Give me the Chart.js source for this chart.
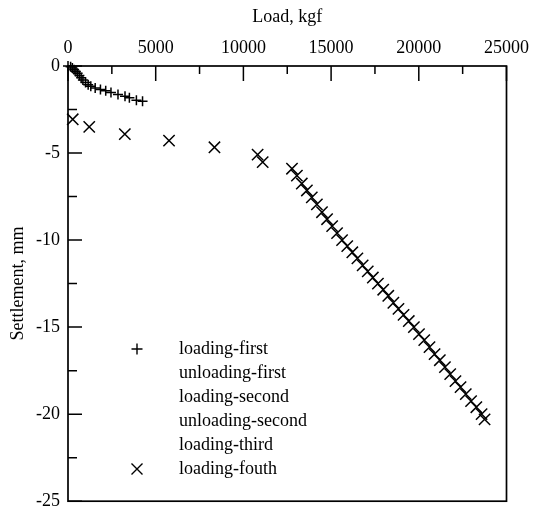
<!DOCTYPE html>
<html>
<head>
<meta charset="utf-8">
<script src="https://cdn.jsdelivr.net/npm/chart.js@4/dist/chart.umd.min.js"></script>
<style>
  html, body { margin: 0; padding: 0; background: #fff; }
  canvas { display: block; }
</style>
</head>
<body>
<canvas id="settlement-chart" width="536" height="520"></canvas>
<script>
// kgf / mm
const loadFirstX = [0, 150, 250, 350, 450, 550, 650, 750, 850, 1000, 1150, 1300, 1550, 1850, 2150, 2450, 2850, 3250, 3500, 3900, 4250];
const loadFirstY = [0, -0.05, -0.12, -0.22, -0.32, -0.42, -0.55, -0.68, -0.80, -0.95, -1.08, -1.17, -1.26, -1.35, -1.42, -1.52, -1.64, -1.74, -1.83, -1.97, -2.03];

const loadFouthX = [270, 1210, 3240, 5760, 8350, 10810, 11100,
    12770, 13050, 13330, 13620, 13900, 14190, 14480, 14770, 15060, 15340, 15625,
    15920, 16210, 16500, 16800, 17090, 17380, 17670, 17970, 18260, 18550, 18840, 19130, 19430, 19720,
    20010, 20310, 20610, 20900, 21200, 21490, 21790, 22090, 22380, 22680, 22980, 23280, 23580, 23750];
const loadFouthY = [-3.06, -3.50, -3.91, -4.29, -4.67, -5.09, -5.52,
    -5.90, -6.30, -6.75, -7.15, -7.55, -7.95, -8.40, -8.80, -9.20, -9.60, -10.00,
    -10.35, -10.70, -11.05, -11.45, -11.80, -12.15, -12.50, -12.85, -13.20, -13.60, -13.95, -14.30, -14.65, -15.00,
    -15.40, -15.75, -16.15, -16.55, -16.90, -17.30, -17.70, -18.10, -18.45, -18.85, -19.25, -19.60, -20.00, -20.30];

const seriesNames = ['loading-first', 'unloading-first', 'loading-second', 'unloading-second', 'loading-third', 'loading-fouth'];
const xTicks = [0, 5000, 10000, 15000, 20000, 25000];
const yTicks = [0, -5, -10, -15, -20, -25];

const FONT = { family: '"Liberation Serif", "Times New Roman", serif', size: 18 };

function toPoints(xs, ys) {
    return xs.map((x, i) => ({ x, y: ys[i] }));
}

// inward ticks, box and the text-only legend
const frame = {
    id: 'frame',
    afterDraw(chart) {
        const { ctx, chartArea: a, scales: { x, y } } = chart;
        ctx.save();
        ctx.strokeStyle = '#000';
        ctx.lineWidth = 1.7;
        ctx.strokeRect(a.left, a.top, a.right - a.left, a.bottom - a.top);

        ctx.lineWidth = 1.5;
        ctx.beginPath();
        for (let v = 0; v <= 25000; v += 2500) {
            const px = x.getPixelForValue(v);
            const len = v % 5000 === 0 ? 15 : 8;
            ctx.moveTo(px, a.top);
            ctx.lineTo(px, a.top + len);
        }
        for (let v = 0; v >= -25; v -= 2.5) {
            const py = y.getPixelForValue(v);
            const len = v % 5 === 0 ? 14 : 9;
            ctx.moveTo(a.left, py);
            ctx.lineTo(a.left + len, py);
        }
        ctx.stroke();

        // legend
        ctx.font = `${FONT.size}px ${FONT.family}`;
        ctx.fillStyle = '#000';
        ctx.textBaseline = 'middle';
        ctx.textAlign = 'left';
        const lx = 137, tx = 179, top = 349, step = 24;
        seriesNames.forEach((name, i) => {
            const cy = top + i * step;
            ctx.fillText(name, tx, cy);
        });
        ctx.lineWidth = 1.4;
        ctx.beginPath();
        ctx.moveTo(lx - 5.5, top); ctx.lineTo(lx + 5.5, top);
        ctx.moveTo(lx, top - 5.5); ctx.lineTo(lx, top + 5.5);
        const cy = top + 5 * step;
        ctx.moveTo(lx - 5.5, cy - 5.5); ctx.lineTo(lx + 5.5, cy + 5.5);
        ctx.moveTo(lx - 5.5, cy + 5.5); ctx.lineTo(lx + 5.5, cy - 5.5);
        ctx.stroke();
        ctx.restore();
    }
};

new Chart(document.getElementById('settlement-chart'), {
    type: 'scatter',
    data: {
        datasets: [
            {
                label: seriesNames[0],
                data: toPoints(loadFirstX, loadFirstY),
                pointStyle: 'cross',
                pointRadius: 5,
                borderColor: '#000',
                borderWidth: 1.5,
                clip: false,
            },
            { label: seriesNames[1], data: [] },
            { label: seriesNames[2], data: [] },
            { label: seriesNames[3], data: [] },
            { label: seriesNames[4], data: [] },
            {
                label: seriesNames[5],
                data: toPoints(loadFouthX, loadFouthY),
                pointStyle: 'crossRot',
                pointRadius: 8,
                borderColor: '#000',
                borderWidth: 1.5,
                clip: false,
            },
        ],
    },
    options: {
        responsive: false,
        animation: false,
        layout: { padding: { top: 0, left: 0, right: 28, bottom: 13 } },
        plugins: {
            legend: { display: false },
            tooltip: { enabled: false },
        },
        scales: {
            x: {
                type: 'linear',
                position: 'top',
                min: 0,
                max: 25000,
                afterFit: s => { s.height = 66; },
                afterBuildTicks: s => { s.ticks = xTicks.map(value => ({ value })); },
                grid: { display: false, drawTicks: false },
                border: { display: false },
                ticks: { color: '#000', font: FONT, padding: 7, maxRotation: 0, callback: v => String(v) },
                title: { display: true, text: 'Load, kgf', color: '#000', font: FONT, padding: { top: 6, bottom: 0 } },
            },
            y: {
                type: 'linear',
                min: -25,
                max: 0,
                afterFit: s => { s.width = 68; },
                afterBuildTicks: s => { s.ticks = yTicks.map(value => ({ value })); },
                grid: { display: false, drawTicks: false },
                border: { display: false },
                ticks: { color: '#000', font: FONT, padding: 8, callback: v => String(v) },
                title: { display: true, text: 'Settlement, mm', color: '#000', font: FONT, padding: { top: 7, bottom: 0 } },
            },
        },
    },
    plugins: [frame],
});
</script>
</body>
</html>
